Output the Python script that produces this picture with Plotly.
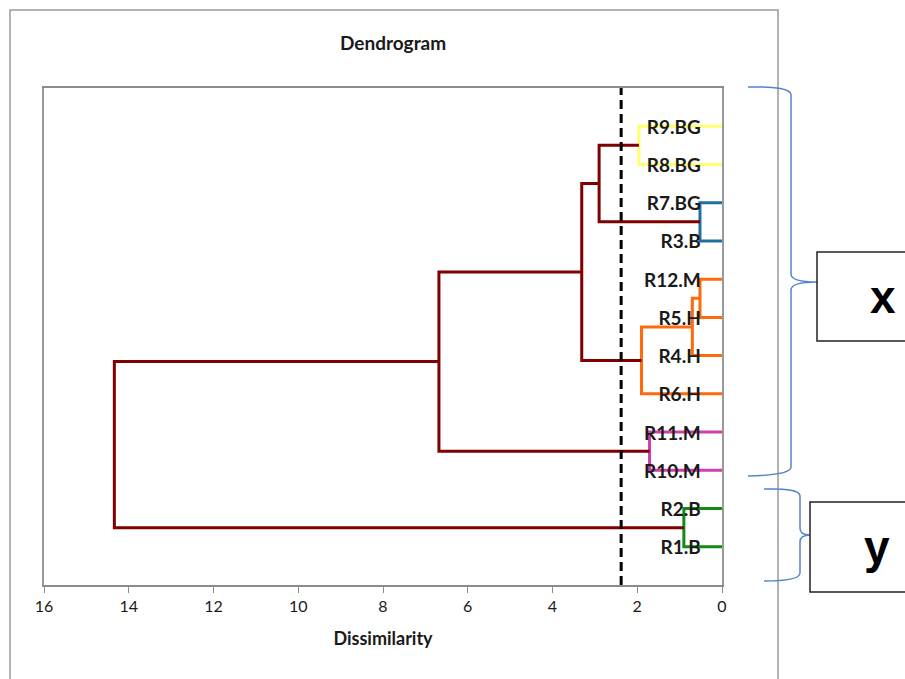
import plotly.graph_objects as go

# ---------------- data ----------------
leaf_labels = ["R9.BG", "R8.BG", "R7.BG", "R3.B", "R12.M", "R5.H",
               "R4.H", "R6.H", "R11.M", "R10.M", "R2.B", "R1.B"]   # top -> bottom

node_names = ["m1", "m2", "m3", "m4", "m5", "m6", "m7", "m8", "m9", "m10", "m11"]
node_a = ["R9.BG", "R7.BG", "R12.M", "m3", "m4", "R11.M", "R2.B", "m1", "m8", "m9", "m10"]
node_b = ["R8.BG", "R3.B", "R5.H", "R4.H", "R6.H", "R10.M", "R1.B", "m2", "m5", "m6", "m7"]
node_height = [1.96, 0.52, 0.52, 0.70, 1.90, 1.71, 0.90, 2.90, 3.31, 6.68, 14.34]
node_group = ["yellow", "blue", "orange", "orange", "orange", "pink", "green",
              "trunk", "trunk", "trunk", "trunk"]

cut_value = 2.38
x_ticks = [16, 14, 12, 10, 8, 6, 4, 2, 0]

group_colors = {"yellow": "#FFFF70", "blue": "#1F6FA3", "orange": "#FF6A0A",
                "pink": "#D13FA8", "green": "#138A13", "trunk": "#7F0000"}

# ---------------- layout helpers (pixel -> paper) ----------------
W, H = 905, 679
L, R, T, B = 44, 722, 88, 585


def px(x):
    return (x - L) / (R - L)


def py(y):
    return (B - y) / (B - T)


def path(points):
    out = []
    for cmd, *c in points:
        vals = []
        for i in range(0, len(c), 2):
            vals.append(f"{px(c[i]):.5f},{py(c[i+1]):.5f}")
        out.append(cmd + " " + " ".join(vals))
    return " ".join(out)


# ---------------- dendrogram geometry ----------------
n = len(leaf_labels)
pos = {lab: n - i for i, lab in enumerate(leaf_labels)}
hgt = {lab: 0.0 for lab in leaf_labels}

fig = go.Figure()
for name, a, b, h, g in zip(node_names, node_a, node_b, node_height, node_group):
    ya, yb = pos[a], pos[b]
    pos[name] = (ya + yb) / 2
    hgt[name] = h
    fig.add_trace(go.Scatter(
        x=[hgt[a], h, h, hgt[b]], y=[ya, ya, yb, yb],
        mode="lines", line=dict(color=group_colors[g], width=3),
        hoverinfo="skip", showlegend=False))

# cut line
fig.add_trace(go.Scatter(
    x=[cut_value, cut_value], y=[0, n + 1], mode="lines",
    line=dict(color="black", width=3, dash="9px,5px"),
    hoverinfo="skip", showlegend=False))

# leaf labels (nudged a few pixels below their leaf line, as in the original)
label_nudge = 0.07
fig.add_trace(go.Scatter(
    x=[0.5] * n, y=[pos[l] - label_nudge for l in leaf_labels], text=leaf_labels,
    mode="text", textposition="middle left",
    textfont=dict(family="Lato", size=19, color="#1a1a1a", weight="bold"),
    hoverinfo="skip", showlegend=False))

# ---------------- decorations ----------------
shapes = []
shapes.append(dict(type="rect", xref="paper", yref="paper",
                   x0=px(10), x1=px(778), y0=py(700), y1=py(10),
                   line=dict(color="#9a9a9a", width=1.5), layer="below"))
brace_col = "#5585C5"
shapes.append(dict(type="path", xref="paper", yref="paper",
                   path=path([("M", 748, 87), ("Q", 791, 86, 791, 95),
                              ("L", 791, 274), ("Q", 791, 282, 817, 282),
                              ("Q", 791, 282, 791, 290), ("L", 791, 467),
                              ("Q", 791, 475, 748, 476)]),
                   line=dict(color=brace_col, width=1.5)))
shapes.append(dict(type="path", xref="paper", yref="paper",
                   path=path([("M", 764, 489), ("Q", 800, 488, 800, 496),
                              ("L", 800, 528), ("Q", 800, 535, 810, 535),
                              ("Q", 800, 535, 800, 542), ("L", 800, 573),
                              ("Q", 800, 581, 764, 581)]),
                   line=dict(color=brace_col, width=1.5)))
shapes.append(dict(type="rect", xref="paper", yref="paper",
                   x0=px(817), x1=px(915), y0=py(341), y1=py(252),
                   line=dict(color="#222222", width=1.5), fillcolor="white"))
shapes.append(dict(type="rect", xref="paper", yref="paper",
                   x0=px(810), x1=px(915), y0=py(592), y1=py(502),
                   line=dict(color="#222222", width=1.5), fillcolor="white"))

annotations = [
    dict(text="Dendrogram", xref="paper", yref="paper", x=px(393), y=py(43),
         showarrow=False, xanchor="center", yanchor="middle",
         font=dict(family="Lato", size=19, color="#1a1a1a", weight="bold")),
    dict(text="x", xref="paper", yref="paper", x=px(883), y=py(297),
         showarrow=False, xanchor="center", yanchor="middle",
         font=dict(family="Liberation Sans", size=46, color="black", weight="bold")),
    dict(text="y", xref="paper", yref="paper", x=px(877), y=py(547),
         showarrow=False, xanchor="center", yanchor="middle",
         font=dict(family="Liberation Sans", size=46, color="black", weight="bold")),
]

fig.update_layout(
    width=W, height=H,
    margin=dict(l=L, r=W - R, t=T, b=H - B, pad=0),
    paper_bgcolor="white", plot_bgcolor="white",
    shapes=shapes, annotations=annotations,
    xaxis=dict(range=[16, 0], tickvals=x_ticks, ticktext=[str(v) for v in x_ticks],
               showgrid=False, zeroline=False,
               showline=True, linecolor="#8c8c8c", linewidth=1.5, mirror=True,
               ticks="outside", ticklen=6, tickcolor="#8c8c8c", tickwidth=1.2,
               tickfont=dict(family="Lato", size=16, color="#1a1a1a"),
               title=dict(text="Dissimilarity", standoff=18,
                          font=dict(family="Lato", size=18, color="#1a1a1a", weight="bold"))),
    yaxis=dict(range=[0, n + 1], showticklabels=False, ticks="",
               showgrid=False, zeroline=False,
               showline=True, linecolor="#9a9a9a", linewidth=1.5, mirror=True),
)

fig.write_html("out.html", config={"displayModeBar": False},
               post_script="document.body.style.margin='0';document.body.style.padding='0';")
